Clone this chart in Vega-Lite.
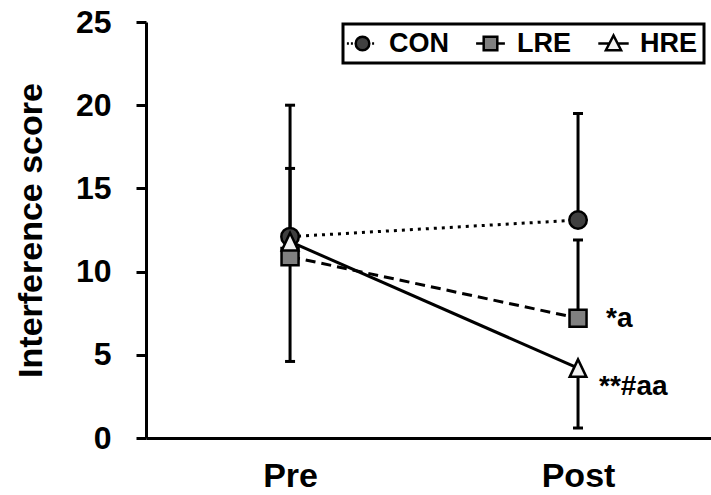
{
  "$schema": "https://vega.github.io/schema/vega-lite/v6.json",
  "width": 565,
  "height": 416,
  "autosize": {"type": "none"},
  "padding": {"left": 146, "top": 22, "right": 0, "bottom": 57},
  "background": "white",
  "config": {"view": {"stroke": null}, "font": "Liberation Sans", "legend": {"strokeWidth": 3}},
  "data": {"values": [
    {"time": "Pre", "group": "CON", "score": 12.1, "bar_end": 20.0, "sig": ""},
    {"time": "Pre", "group": "LRE", "score": 10.9, "bar_end": 16.2, "sig": ""},
    {"time": "Pre", "group": "HRE", "score": 11.8, "bar_end": 4.6, "sig": ""},
    {"time": "Post", "group": "CON", "score": 13.1, "bar_end": 19.5, "sig": ""},
    {"time": "Post", "group": "LRE", "score": 7.2, "bar_end": 11.9, "sig": "*a"},
    {"time": "Post", "group": "HRE", "score": 4.2, "bar_end": 0.6, "sig": "**#aa"}
  ]},
  "encoding": {
    "x": {
      "field": "time", "type": "nominal", "sort": ["Pre", "Post"],
      "scale": {"type": "point", "padding": 0.481, "align": 0.52},
      "axis": {
        "title": null, "labelAngle": 0, "ticks": false,
        "domainColor": "black", "domainWidth": 3,
        "labelFont": "Liberation Sans", "labelFontWeight": "bold", "labelFontSize": 34,
        "labelColor": "black", "labelPadding": 21
      }
    }
  },
  "layer": [
    {
      "mark": {"type": "rule", "stroke": "black", "strokeWidth": 3},
      "encoding": {
        "y": {
          "field": "score", "type": "quantitative",
          "scale": {"domain": [0, 25], "nice": false},
          "axis": {
            "title": "Interference score", "values": [0, 5, 10, 15, 20, 25],
            "grid": false, "domainColor": "black", "domainWidth": 3,
            "tickColor": "black", "tickWidth": 3, "tickSize": 10,
            "labelFont": "Liberation Sans", "labelFontWeight": "bold", "labelFontSize": 32,
            "labelColor": "black", "labelPadding": 25,
            "titleFont": "Liberation Sans", "titleFontWeight": "bold", "titleFontSize": 34,
            "titleColor": "black", "titlePadding": 27
          }
        },
        "y2": {"field": "bar_end"}
      }
    },
    {
      "mark": {"type": "tick", "color": "black", "thickness": 3, "size": 10, "opacity": 1},
      "encoding": {"y": {"field": "bar_end", "type": "quantitative"}}
    },
    {
      "transform": [{"filter": "datum.group === 'CON'"}],
      "mark": {"type": "line", "stroke": "black", "strokeWidth": 3, "strokeDash": [3, 5]},
      "encoding": {"y": {"field": "score", "type": "quantitative"}}
    },
    {
      "transform": [{"filter": "datum.group === 'LRE'"}],
      "mark": {"type": "line", "stroke": "black", "strokeWidth": 3, "strokeDash": [10, 6]},
      "encoding": {"y": {"field": "score", "type": "quantitative"}}
    },
    {
      "transform": [{"filter": "datum.group === 'HRE'"}],
      "mark": {"type": "line", "stroke": "black", "strokeWidth": 3},
      "encoding": {"y": {"field": "score", "type": "quantitative"}}
    },
    {
      "transform": [{"filter": "datum.group === 'CON'"}],
      "mark": {"type": "point", "shape": "circle", "filled": true, "fill": "#404040", "stroke": "black", "strokeWidth": 2.5, "opacity": 1, "fillOpacity": 1, "size": 306},
      "encoding": {"y": {"field": "score", "type": "quantitative"}}
    },
    {
      "transform": [{"filter": "datum.group === 'LRE'"}],
      "mark": {"type": "point", "shape": "square", "filled": true, "fill": "#808080", "stroke": "black", "strokeWidth": 2.5, "opacity": 1, "fillOpacity": 1, "size": 290},
      "encoding": {"y": {"field": "score", "type": "quantitative"}}
    },
    {
      "transform": [{"filter": "datum.group === 'HRE'"}],
      "mark": {"type": "point", "shape": "M0,-1L-0.95,1L0.95,1Z", "filled": true, "fill": "#f2f2f2", "stroke": "black", "strokeWidth": 2.5, "opacity": 1, "fillOpacity": 1, "size": 306},
      "encoding": {"y": {"field": "score", "type": "quantitative"}}
    },
    {
      "transform": [{"filter": "datum.score < 0"}],
      "mark": {"type": "point", "filled": true, "strokeWidth": 2.5, "opacity": 1, "fillOpacity": 1, "size": 256},
      "encoding": {
        "y": {"field": "score", "type": "quantitative"},
        "shape": {
          "field": "group", "type": "nominal",
          "scale": {"domain": ["CON", "LRE", "HRE"], "range": [
            "M-1.95,0h0.25M-1.45,0h0.25M1.2,0h0.25M-0.85,0A0.85,0.85,0,1,1,0.85,0A0.85,0.85,0,1,1,-0.85,0Z",
            "M-1.8,0H-0.85M0.85,0H1.8M-0.85,-0.85H0.85V0.85H-0.85Z",
            "M-1.9,0H-0.5M0.5,0H1.9M0,-1L-0.95,0.85L0.95,0.85Z"
          ]},
          "legend": {
            "title": null, "orient": "none", "legendX": 197, "legendY": 2,
            "direction": "horizontal", "gridAlign": "none",
            "strokeColor": "black", "padding": 6,
            "symbolSize": 256, "symbolStrokeWidth": 2.5,
            "labelFont": "Liberation Sans", "labelFontWeight": "bold", "labelFontSize": 27,
            "labelColor": "black", "labelOffset": 13, "columnPadding": 22
          }
        },
        "fill": {
          "field": "group", "type": "nominal",
          "scale": {"domain": ["CON", "LRE", "HRE"], "range": ["#404040", "#808080", "#f2f2f2"]},
          "legend": {
            "title": null, "orient": "none", "legendX": 197, "legendY": 2,
            "direction": "horizontal", "gridAlign": "none",
            "strokeColor": "black", "padding": 6,
            "symbolSize": 256, "symbolStrokeWidth": 2.5,
            "labelFont": "Liberation Sans", "labelFontWeight": "bold", "labelFontSize": 27,
            "labelColor": "black", "labelOffset": 13, "columnPadding": 22
          }
        },
        "stroke": {
          "field": "group", "type": "nominal",
          "scale": {"domain": ["CON", "LRE", "HRE"], "range": ["black", "black", "black"]},
          "legend": {
            "title": null, "orient": "none", "legendX": 197, "legendY": 2,
            "direction": "horizontal", "gridAlign": "none",
            "strokeColor": "black", "padding": 6,
            "symbolSize": 256, "symbolStrokeWidth": 2.5,
            "labelFont": "Liberation Sans", "labelFontWeight": "bold", "labelFontSize": 27,
            "labelColor": "black", "labelOffset": 13, "columnPadding": 22
          }
        }
      }
    },
    {
      "transform": [{"filter": "datum.group === 'LRE'"}],
      "mark": {"type": "text", "align": "left", "baseline": "middle", "dx": 28, "dy": 1, "font": "Liberation Sans", "fontWeight": "bold", "fontSize": 28, "color": "black"},
      "encoding": {"y": {"field": "score", "type": "quantitative"}, "text": {"field": "sig"}}
    },
    {
      "transform": [{"filter": "datum.group === 'HRE'"}],
      "mark": {"type": "text", "align": "left", "baseline": "middle", "dx": 21, "dy": 19, "font": "Liberation Sans", "fontWeight": "bold", "fontSize": 28, "color": "black"},
      "encoding": {"y": {"field": "score", "type": "quantitative"}, "text": {"field": "sig"}}
    }
  ]
}
